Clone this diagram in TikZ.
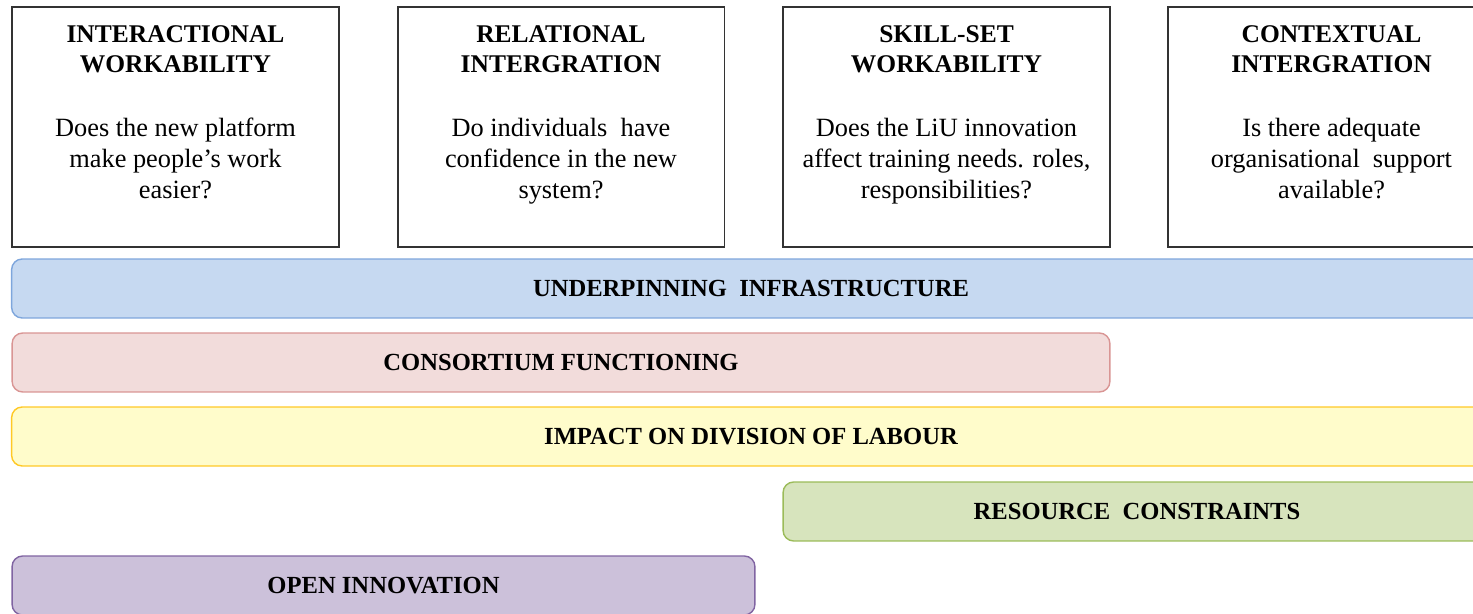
\documentclass[tikz,border=0pt]{standalone}
\usepackage{fontspec}
\setmainfont{Liberation Serif}
\usetikzlibrary{positioning}

\definecolor{infrafill}{HTML}{C6D9F1}
\definecolor{infraline}{HTML}{7EA6DC}
\definecolor{consfill}{HTML}{F2DCDB}
\definecolor{consline}{HTML}{D99594}
\definecolor{labfill}{HTML}{FFFCCB}
\definecolor{labline}{HTML}{FFC926}
\definecolor{resfill}{HTML}{D7E4BD}
\definecolor{resline}{HTML}{9BBB59}
\definecolor{openfill}{HTML}{CCC1DA}
\definecolor{openline}{HTML}{8064A2}

\begin{document}
\begin{tikzpicture}[x=0.02cm, y=-0.02cm,
  pillar/.style={draw=black!80, line width=1.1pt, minimum width=6.54cm,
    minimum height=4.8cm, inner sep=0pt},
  heading/.style={font=\fontsize{14.5}{17}\selectfont\bfseries, align=center,
    inner sep=0pt},
  question/.style={font=\fontsize{15}{17.6}\selectfont, align=center,
    inner sep=0pt},
  bar/.style={rounded corners=6pt, line width=0.8pt, minimum height=1.18cm,
    inner sep=0pt, font=\fontsize{14}{16}\selectfont\bfseries}]
  \useasboundingbox (0,0) rectangle (1473,614);

  % the four pillars
  \node[pillar] (iw) at (175.5,127) {};
  \node[pillar] (ri) at (561,127) {};
  \node[pillar] (sw) at (946.5,127) {};
  \node[pillar] (ci) at (1331.5,127) {};

  \node[heading, below=0.38cm of iw.north] (iwh) {INTERACTIONAL\\WORKABILITY};
  \node[heading, below=0.38cm of ri.north] (rih) {RELATIONAL\\INTERGRATION};
  \node[heading, below=0.38cm of sw.north] (swh) {SKILL-SET\\WORKABILITY};
  \node[heading, below=0.38cm of ci.north] (cih) {CONTEXTUAL\\INTERGRATION};

  \node[question, below=0.9cm of iwh] (iwq) {Does the new platform\\make people's work\\easier?};
  \node[question, below=0.9cm of rih] (riq) {Do individuals\ \ have\\confidence in the new\\system?};
  \node[question, below=0.9cm of swh] (swq) {Does the LiU innovation\\affect training needs. roles,\\responsibilities?};
  \node[question, below=0.9cm of cih] (ciq) {Is there adequate\\organisational\ \ support\\available?};

  % the bars underneath
  \node[bar, fill=infrafill, draw=infraline, minimum width=29.58cm] (infra) at (751,288.5)
    {UNDERPINNING\ \ INFRASTRUCTURE};
  \node[bar, fill=consfill, draw=consline, minimum width=21.96cm] (cons) at (561,362.5)
    {CONSORTIUM FUNCTIONING};
  \node[bar, fill=labfill, draw=labline, minimum width=29.58cm] (lab) at (751,436.5)
    {IMPACT ON DIVISION OF LABOUR};
  \node[bar, fill=resfill, draw=resline, minimum width=14.16cm] (res) at (1137,511.5)
    {RESOURCE\ \ CONSTRAINTS};
  \node[bar, fill=openfill, draw=openline, minimum width=14.86cm] (open) at (383.5,585.5)
    {OPEN INNOVATION};
\end{tikzpicture}
\end{document}
